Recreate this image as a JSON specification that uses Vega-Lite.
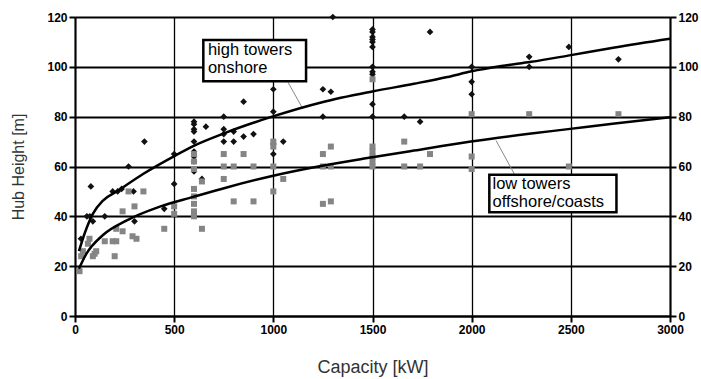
{
  "$schema": "https://vega.github.io/schema/vega-lite/v6.json",
  "width": 595,
  "height": 299,
  "autosize": "none",
  "padding": {"left": 75, "top": 17, "right": 31, "bottom": 63},
  "background": "white",
  "config": {"view": {"stroke": null}, "font": "Liberation Sans"},
  "datasets": {
    "pts": [
      {"capacity": 30, "height": 31, "type": "high"},
      {"capacity": 60, "height": 40, "type": "high"},
      {"capacity": 75, "height": 40, "type": "high"},
      {"capacity": 80, "height": 52, "type": "high"},
      {"capacity": 90, "height": 38, "type": "high"},
      {"capacity": 150, "height": 40, "type": "high"},
      {"capacity": 190, "height": 50, "type": "high"},
      {"capacity": 215, "height": 50, "type": "high"},
      {"capacity": 235, "height": 51, "type": "high"},
      {"capacity": 270, "height": 60, "type": "high"},
      {"capacity": 295, "height": 50, "type": "high"},
      {"capacity": 300, "height": 38, "type": "high"},
      {"capacity": 350, "height": 70, "type": "high"},
      {"capacity": 450, "height": 43, "type": "high"},
      {"capacity": 500, "height": 65, "type": "high"},
      {"capacity": 500, "height": 53, "type": "high"},
      {"capacity": 600, "height": 78, "type": "high"},
      {"capacity": 600, "height": 77, "type": "high"},
      {"capacity": 600, "height": 75, "type": "high"},
      {"capacity": 600, "height": 74, "type": "high"},
      {"capacity": 600, "height": 70, "type": "high"},
      {"capacity": 600, "height": 66, "type": "high"},
      {"capacity": 600, "height": 64, "type": "high"},
      {"capacity": 600, "height": 62, "type": "high"},
      {"capacity": 600, "height": 58, "type": "high"},
      {"capacity": 640, "height": 55, "type": "high"},
      {"capacity": 660, "height": 76, "type": "high"},
      {"capacity": 750, "height": 80, "type": "high"},
      {"capacity": 750, "height": 75, "type": "high"},
      {"capacity": 750, "height": 73, "type": "high"},
      {"capacity": 750, "height": 70, "type": "high"},
      {"capacity": 800, "height": 74, "type": "high"},
      {"capacity": 800, "height": 70, "type": "high"},
      {"capacity": 850, "height": 86, "type": "high"},
      {"capacity": 850, "height": 72, "type": "high"},
      {"capacity": 900, "height": 73, "type": "high"},
      {"capacity": 1000, "height": 91, "type": "high"},
      {"capacity": 1000, "height": 82, "type": "high"},
      {"capacity": 1000, "height": 69, "type": "high"},
      {"capacity": 1000, "height": 65, "type": "high"},
      {"capacity": 1050, "height": 70, "type": "high"},
      {"capacity": 1250, "height": 91, "type": "high"},
      {"capacity": 1290, "height": 90, "type": "high"},
      {"capacity": 1250, "height": 80, "type": "high"},
      {"capacity": 1300, "height": 120, "type": "high"},
      {"capacity": 1500, "height": 115, "type": "high"},
      {"capacity": 1500, "height": 114, "type": "high"},
      {"capacity": 1500, "height": 112, "type": "high"},
      {"capacity": 1500, "height": 111, "type": "high"},
      {"capacity": 1500, "height": 110, "type": "high"},
      {"capacity": 1500, "height": 108, "type": "high"},
      {"capacity": 1500, "height": 100, "type": "high"},
      {"capacity": 1500, "height": 98, "type": "high"},
      {"capacity": 1500, "height": 97, "type": "high"},
      {"capacity": 1500, "height": 85, "type": "high"},
      {"capacity": 1500, "height": 80, "type": "high"},
      {"capacity": 1660, "height": 80, "type": "high"},
      {"capacity": 1740, "height": 78, "type": "high"},
      {"capacity": 1790, "height": 114, "type": "high"},
      {"capacity": 2000, "height": 100, "type": "high"},
      {"capacity": 2000, "height": 94, "type": "high"},
      {"capacity": 2000, "height": 89, "type": "high"},
      {"capacity": 2290, "height": 104, "type": "high"},
      {"capacity": 2290, "height": 100, "type": "high"},
      {"capacity": 2490, "height": 108, "type": "high"},
      {"capacity": 2740, "height": 103, "type": "high"},
      {"capacity": 23, "height": 18, "type": "low"},
      {"capacity": 31, "height": 24, "type": "low"},
      {"capacity": 40, "height": 26, "type": "low"},
      {"capacity": 65, "height": 29, "type": "low"},
      {"capacity": 73, "height": 31, "type": "low"},
      {"capacity": 90, "height": 24, "type": "low"},
      {"capacity": 99, "height": 25, "type": "low"},
      {"capacity": 107, "height": 26, "type": "low"},
      {"capacity": 150, "height": 30, "type": "low"},
      {"capacity": 190, "height": 30, "type": "low"},
      {"capacity": 200, "height": 24, "type": "low"},
      {"capacity": 208, "height": 35, "type": "low"},
      {"capacity": 208, "height": 30, "type": "low"},
      {"capacity": 240, "height": 42, "type": "low"},
      {"capacity": 240, "height": 34, "type": "low"},
      {"capacity": 270, "height": 50, "type": "low"},
      {"capacity": 290, "height": 32, "type": "low"},
      {"capacity": 300, "height": 44, "type": "low"},
      {"capacity": 310, "height": 31, "type": "low"},
      {"capacity": 345, "height": 50, "type": "low"},
      {"capacity": 450, "height": 35, "type": "low"},
      {"capacity": 500, "height": 44, "type": "low"},
      {"capacity": 500, "height": 41, "type": "low"},
      {"capacity": 600, "height": 65, "type": "low"},
      {"capacity": 600, "height": 62, "type": "low"},
      {"capacity": 600, "height": 59, "type": "low"},
      {"capacity": 600, "height": 51, "type": "low"},
      {"capacity": 600, "height": 48, "type": "low"},
      {"capacity": 600, "height": 45, "type": "low"},
      {"capacity": 600, "height": 42, "type": "low"},
      {"capacity": 600, "height": 40, "type": "low"},
      {"capacity": 640, "height": 54, "type": "low"},
      {"capacity": 640, "height": 35, "type": "low"},
      {"capacity": 750, "height": 65, "type": "low"},
      {"capacity": 750, "height": 60, "type": "low"},
      {"capacity": 750, "height": 55, "type": "low"},
      {"capacity": 800, "height": 60, "type": "low"},
      {"capacity": 800, "height": 46, "type": "low"},
      {"capacity": 850, "height": 65, "type": "low"},
      {"capacity": 900, "height": 60, "type": "low"},
      {"capacity": 900, "height": 46, "type": "low"},
      {"capacity": 1000, "height": 70, "type": "low"},
      {"capacity": 1000, "height": 68, "type": "low"},
      {"capacity": 1000, "height": 60, "type": "low"},
      {"capacity": 1000, "height": 50, "type": "low"},
      {"capacity": 1050, "height": 55, "type": "low"},
      {"capacity": 1250, "height": 65, "type": "low"},
      {"capacity": 1290, "height": 68, "type": "low"},
      {"capacity": 1250, "height": 60, "type": "low"},
      {"capacity": 1290, "height": 60, "type": "low"},
      {"capacity": 1250, "height": 45, "type": "low"},
      {"capacity": 1290, "height": 46, "type": "low"},
      {"capacity": 1500, "height": 95, "type": "low"},
      {"capacity": 1500, "height": 68, "type": "low"},
      {"capacity": 1500, "height": 66, "type": "low"},
      {"capacity": 1500, "height": 64, "type": "low"},
      {"capacity": 1500, "height": 62, "type": "low"},
      {"capacity": 1500, "height": 60, "type": "low"},
      {"capacity": 1660, "height": 70, "type": "low"},
      {"capacity": 1660, "height": 60, "type": "low"},
      {"capacity": 1740, "height": 60, "type": "low"},
      {"capacity": 1790, "height": 65, "type": "low"},
      {"capacity": 2000, "height": 81, "type": "low"},
      {"capacity": 2000, "height": 64, "type": "low"},
      {"capacity": 2000, "height": 59, "type": "low"},
      {"capacity": 2290, "height": 81, "type": "low"},
      {"capacity": 2490, "height": 60, "type": "low"},
      {"capacity": 2740, "height": 81, "type": "low"}
    ],
    "curves": [
      {"capacity": 20, "height": 26, "series": "high"},
      {"capacity": 48, "height": 33, "series": "high"},
      {"capacity": 90, "height": 41, "series": "high"},
      {"capacity": 141, "height": 46.3, "series": "high"},
      {"capacity": 217, "height": 50.3, "series": "high"},
      {"capacity": 343, "height": 57, "series": "high"},
      {"capacity": 503, "height": 64.3, "series": "high"},
      {"capacity": 596, "height": 68.2, "series": "high"},
      {"capacity": 748, "height": 73.2, "series": "high"},
      {"capacity": 994, "height": 80, "series": "high"},
      {"capacity": 1246, "height": 85.8, "series": "high"},
      {"capacity": 1499, "height": 90.1, "series": "high"},
      {"capacity": 1709, "height": 93.2, "series": "high"},
      {"capacity": 1878, "height": 95.9, "series": "high"},
      {"capacity": 2000, "height": 98.2, "series": "high"},
      {"capacity": 2150, "height": 100.3, "series": "high"},
      {"capacity": 2300, "height": 102, "series": "high"},
      {"capacity": 2486, "height": 104.5, "series": "high"},
      {"capacity": 2721, "height": 107.8, "series": "high"},
      {"capacity": 3000, "height": 111.3, "series": "high"},
      {"capacity": 20, "height": 19, "series": "low"},
      {"capacity": 57, "height": 24.9, "series": "low"},
      {"capacity": 141, "height": 32.5, "series": "low"},
      {"capacity": 259, "height": 38.3, "series": "low"},
      {"capacity": 428, "height": 43.9, "series": "low"},
      {"capacity": 596, "height": 47.8, "series": "low"},
      {"capacity": 765, "height": 51.6, "series": "low"},
      {"capacity": 994, "height": 56.2, "series": "low"},
      {"capacity": 1246, "height": 60.3, "series": "low"},
      {"capacity": 1499, "height": 63.7, "series": "low"},
      {"capacity": 1709, "height": 66.4, "series": "low"},
      {"capacity": 1996, "height": 70, "series": "low"},
      {"capacity": 2300, "height": 73.2, "series": "low"},
      {"capacity": 2486, "height": 75, "series": "low"},
      {"capacity": 2721, "height": 77.3, "series": "low"},
      {"capacity": 3000, "height": 79.8, "series": "low"}
    ],
    "boxes": [
      {"capacity": 647, "capacity2": 1165, "height": 110.8, "height2": 94.2},
      {"capacity": 2089, "capacity2": 2730, "height": 56.7, "height2": 41.6}
    ],
    "leaders": [
      {"capacity": 1074, "height": 93.8, "capacity2": 1145, "height2": 83.7},
      {"capacity": 2123, "height": 70.4, "capacity2": 2215, "height2": 57}
    ],
    "labels": [
      {"capacity": 670, "height": 106.6, "text": "high towers"},
      {"capacity": 670, "height": 99.6, "text": "onshore"},
      {"capacity": 2105, "height": 52.9, "text": "low towers"},
      {"capacity": 2105, "height": 45.6, "text": "offshore/coasts"}
    ]
  },
  "layer": [
    {
      "encoding": {
        "x": {
          "field": "capacity", "type": "quantitative",
          "scale": {"domain": [0, 3000], "nice": false, "zero": false},
          "axis": {
            "values": [0, 500, 1000, 1500, 2000, 2500, 3000],
            "format": "d",
            "title": "Capacity [kW]",
            "grid": true, "gridColor": "#000", "gridWidth": 1.3, "gridOpacity": 1,
            "domainColor": "#000", "domainWidth": 2,
            "tickColor": "#000", "tickWidth": 2, "tickSize": 6,
            "labelFont": "Liberation Sans", "labelFontWeight": "bold", "labelFontSize": 12,
            "labelColor": "#000", "labelPadding": 2, "labelFlush": false,
            "titleFont": "Liberation Sans", "titleFontSize": 18, "titleFontWeight": "normal",
            "titleColor": "#333", "titlePadding": 23
          }
        },
        "y": {
          "field": "height", "type": "quantitative",
          "scale": {"domain": [0, 120], "nice": false, "zero": false},
          "axis": {
            "values": [0, 20, 40, 60, 80, 100, 120],
            "title": "Hub Height [m]",
            "grid": true, "gridColor": "#000", "gridWidth": 2, "gridOpacity": 1,
            "domainColor": "#000", "domainWidth": 2,
            "tickColor": "#000", "tickWidth": 2, "tickSize": 6,
            "labelFont": "Liberation Sans", "labelFontWeight": "bold", "labelFontSize": 12,
            "labelColor": "#000", "labelPadding": 2, "labelFlush": false,
            "titleFont": "Liberation Sans", "titleFontSize": 16, "titleFontWeight": "normal",
            "titleColor": "#333", "titlePadding": 20
          }
        }
      },
      "layer": [
        {
          "data": {"name": "pts"},
          "mark": {"type": "point", "filled": true, "opacity": 1},
          "encoding": {
            "shape": {"field": "type", "type": "nominal", "scale": {"domain": ["high", "low"], "range": ["diamond", "square"]}, "legend": null},
            "color": {"field": "type", "type": "nominal", "scale": {"domain": ["high", "low"], "range": ["#111111", "#858585"]}, "legend": null},
            "size": {"field": "type", "type": "nominal", "scale": {"domain": ["high", "low"], "range": [45, 36]}, "legend": null}
          }
        },
        {
          "data": {"name": "leaders"},
          "mark": {"type": "rule", "color": "#888", "strokeWidth": 1},
          "encoding": {
            "x2": {"field": "capacity2"},
            "y2": {"field": "height2"}
          }
        },
        {
          "data": {"name": "boxes"},
          "mark": {"type": "rect", "fill": "white", "stroke": "#000", "strokeWidth": 2.5},
          "encoding": {
            "x2": {"field": "capacity2"},
            "y2": {"field": "height2"}
          }
        },
        {
          "data": {"name": "labels"},
          "mark": {"type": "text", "align": "left", "baseline": "middle", "font": "Liberation Sans", "fontSize": 16.5, "color": "#000"},
          "encoding": {
            "text": {"field": "text", "type": "nominal"}
          }
        }
      ]
    },
    {
      "data": {"name": "curves"},
      "mark": {"type": "line", "color": "#000", "strokeWidth": 2.5, "interpolate": "monotone"},
      "encoding": {
        "x": {
          "field": "capacity", "type": "quantitative",
          "scale": {"domain": [0, 3000], "nice": false, "zero": false},
          "axis": {
            "values": [0, 500, 1000, 1500, 2000, 2500, 3000],
            "format": "d",
            "title": "Capacity [kW]",
            "grid": true, "gridColor": "#000", "gridWidth": 1.3, "gridOpacity": 1,
            "domainColor": "#000", "domainWidth": 2,
            "tickColor": "#000", "tickWidth": 2, "tickSize": 6,
            "labelFont": "Liberation Sans", "labelFontWeight": "bold", "labelFontSize": 12,
            "labelColor": "#000", "labelPadding": 2, "labelFlush": false,
            "titleFont": "Liberation Sans", "titleFontSize": 18, "titleFontWeight": "normal",
            "titleColor": "#333", "titlePadding": 23
          }
        },
        "y": {
          "field": "height", "type": "quantitative",
          "scale": {"domain": [0, 120], "nice": false, "zero": false},
          "axis": {
            "orient": "right",
            "values": [0, 20, 40, 60, 80, 100, 120],
            "title": null, "grid": false,
            "domainColor": "#000", "domainWidth": 2,
            "tickColor": "#000", "tickWidth": 2, "tickSize": 6,
            "labelFont": "Liberation Sans", "labelFontWeight": "bold", "labelFontSize": 12,
            "labelColor": "#000", "labelPadding": 2, "labelFlush": false
          }
        },
        "detail": {"field": "series", "type": "nominal"}
      }
    }
  ],
  "resolve": {"scale": {"y": "independent"}}
}
